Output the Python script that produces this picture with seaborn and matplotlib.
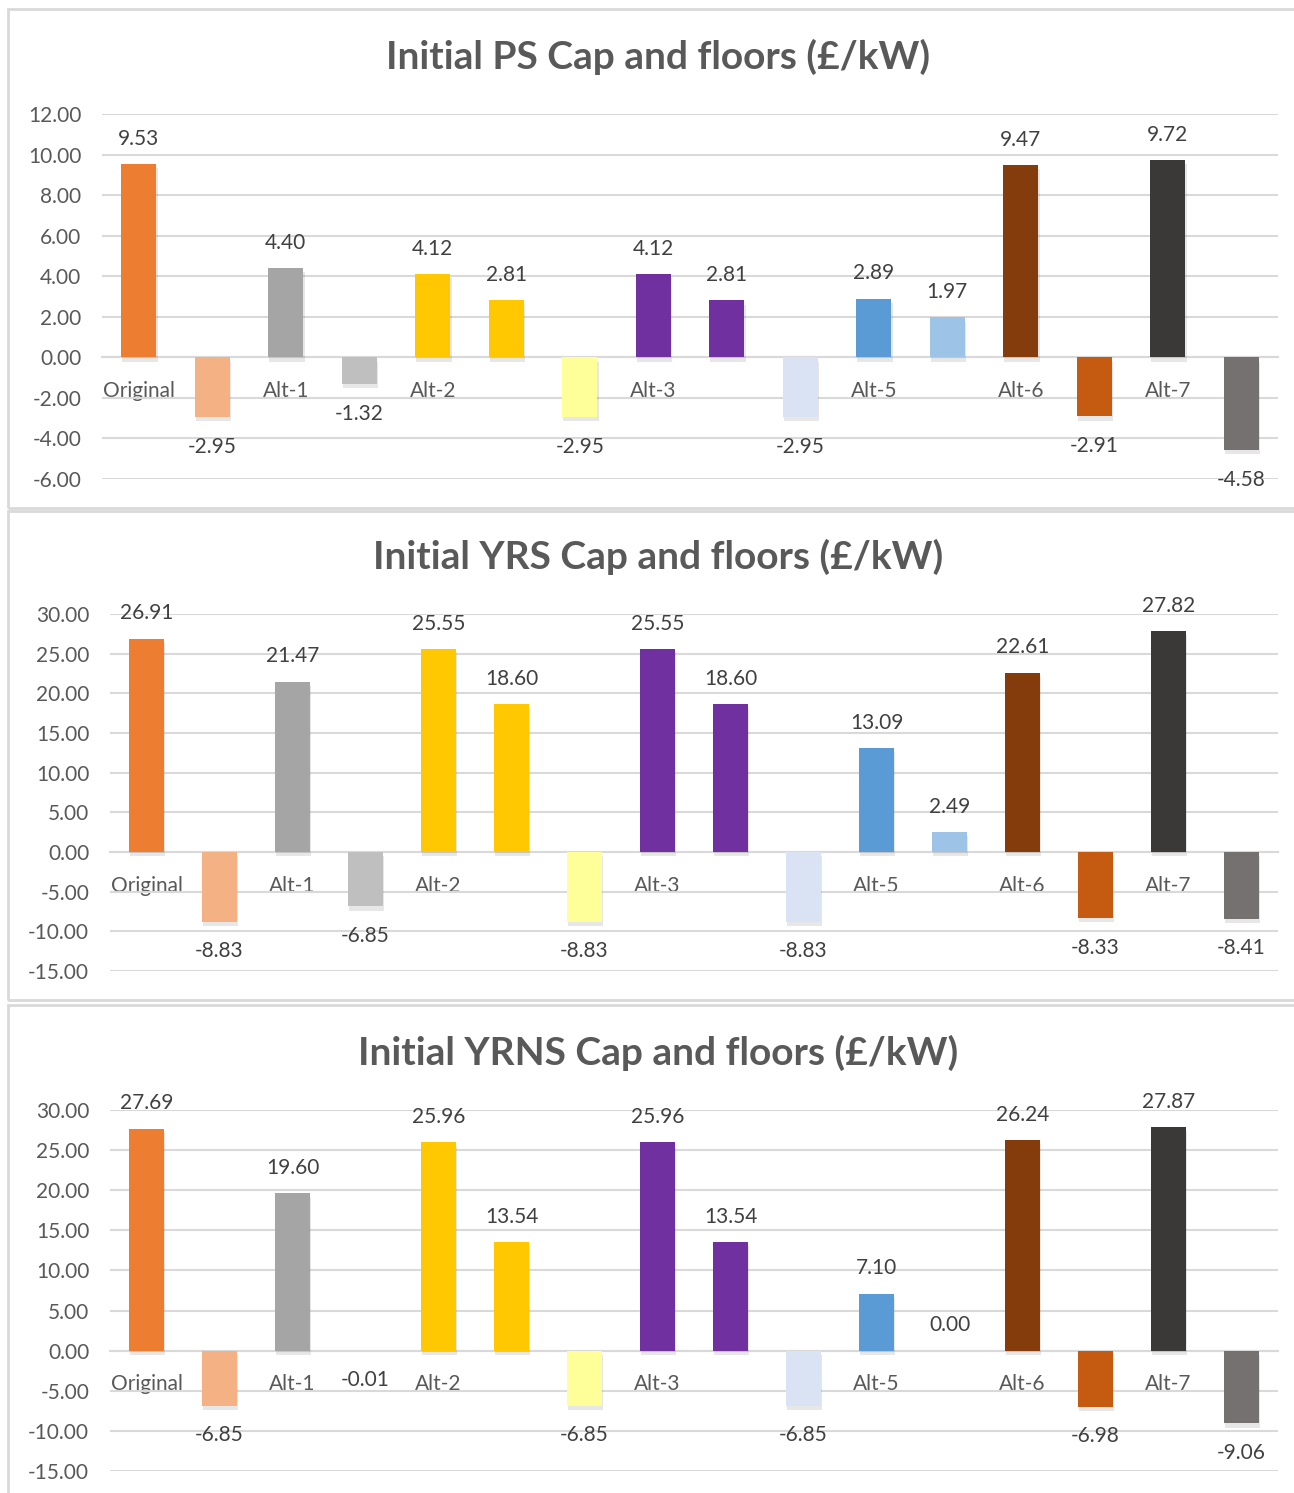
import numpy as np
import pandas as pd
import matplotlib
matplotlib.use('Agg')
import matplotlib.pyplot as plt
import matplotlib.patheffects as pe
from matplotlib.patches import Rectangle
from matplotlib.ticker import FormatStrFormatter, FixedLocator
import seaborn as sns

sns.set_theme(style='white')
plt.rcParams['font.family'] = ['Lato', 'DejaVu Sans']

# one bar per option: caps and floors side by side
keys = ['Original cap', 'Original floor', 'Alt-1 cap', 'Alt-1 floor',
        'Alt-2 cap', 'Alt-2 cap b', 'Alt-2 floor', 'Alt-3 cap', 'Alt-3 cap b',
        'Alt-3 floor', 'Alt-5 cap', 'Alt-5 floor', 'Alt-6 cap', 'Alt-6 floor',
        'Alt-7 cap', 'Alt-7 floor']
tick_labels = ['Original', '', 'Alt-1', '', 'Alt-2', '', '', 'Alt-3', '', '',
               'Alt-5', '', 'Alt-6', '', 'Alt-7', '']
bar_colors = ['#ED7D31', '#F4B183', '#A5A5A5', '#BFBFBF',
              '#FFC800', '#FFC800', '#FFFF99', '#7030A0', '#7030A0',
              '#DAE3F3', '#5B9BD5', '#9DC3E6', '#843C0C', '#C55A11',
              '#3B3838', '#767171']

ps_values = [9.53, -2.95, 4.40, -1.32, 4.12, 2.81, -2.95, 4.12, 2.81,
             -2.95, 2.89, 1.97, 9.47, -2.91, 9.72, -4.58]
yrs_values = [26.91, -8.83, 21.47, -6.85, 25.55, 18.60, -8.83, 25.55, 18.60,
              -8.83, 13.09, 2.49, 22.61, -8.33, 27.82, -8.41]
yrns_values = [27.69, -6.85, 19.60, -0.01, 25.96, 13.54, -6.85, 25.96, 13.54,
               -6.85, 7.10, 0.00, 26.24, -6.98, 27.87, -9.06]

titles = ['Initial PS Cap and floors (£/kW)',
          'Initial YRS Cap and floors (£/kW)',
          'Initial YRNS Cap and floors (£/kW)']

W, H = 1294, 1493
fig = plt.figure(figsize=(W / 100, H / 100), dpi=100)

GRID = '#D9D9D9'
AXIS_TXT = '#595959'
LABEL_TXT = '#404040'

# pixel boxes (panel frame, plot area, title y)
panels = [
    dict(frame=(8, 9, 1300, 508), plot=(102, 114, 1278, 479), ty=57,
         ylim=(-6, 12), step=2, vals=ps_values),
    dict(frame=(8, 511, 1300, 1000), plot=(110, 614, 1278, 971), ty=557,
         ylim=(-15, 30), step=5, vals=yrs_values),
    dict(frame=(8, 1005, 1300, 1500), plot=(110, 1110, 1278, 1471), ty=1053,
         ylim=(-15, 30), step=5, vals=yrns_values),
]

palette = dict(zip(keys, bar_colors))
shadow = [pe.SimplePatchShadow(offset=(1, -3), shadow_rgbFace='k', alpha=0.1),
          pe.Normal()]

for p, title in zip(panels, titles):
    x0, y0, x1, y1 = p['frame']
    fig.patches.append(Rectangle((x0 / W, 1 - y1 / H), (x1 - x0) / W, (y1 - y0) / H,
                                 transform=fig.transFigure, fill=False,
                                 edgecolor=GRID, linewidth=2))
    l, t, r, b = p['plot']
    ax = fig.add_axes([l / W, 1 - b / H, (r - l) / W, (b - t) / H])

    df = pd.DataFrame({'key': keys, 'value': p['vals']})
    sns.barplot(data=df, x='key', y='value', hue='key', palette=palette,
                saturation=1, width=0.48, legend=False, linewidth=0,
                ax=ax, zorder=3)
    for bar in ax.patches:
        bar.set_path_effects(shadow)
    for c in ax.containers:
        neg = c.datavalues[0] < 0
        ax.bar_label(c, fmt='%.2f', padding=14 if neg else 11,
                     fontsize=15, color=LABEL_TXT)

    ax.set_ylim(*p['ylim'])
    ax.set_xlim(-0.5, len(keys) - 0.5)
    ax.set_yticks(np.arange(p['ylim'][0], p['ylim'][1] + 0.1, p['step']))
    ax.yaxis.set_major_formatter(FormatStrFormatter('%.2f'))
    ax.grid(axis='y', color=GRID, linewidth=1.5, zorder=0)
    ax.set_axisbelow(True)

    ax.set_xticks(range(len(keys)))
    ax.set_xticklabels(tick_labels)
    ax.xaxis.set_minor_locator(FixedLocator(np.arange(-0.5, len(keys), 1)))
    ax.tick_params(axis='x', which='major', length=0, pad=17,
                   labelsize=15, labelcolor=AXIS_TXT)
    ax.tick_params(axis='x', which='minor', length=6, width=1.5,
                   color=GRID, direction='out')
    ax.tick_params(axis='y', length=0, pad=15, labelsize=15, labelcolor=AXIS_TXT)

    for s in ['top', 'right', 'left']:
        ax.spines[s].set_visible(False)
    ax.spines['bottom'].set_position(('data', 0))
    ax.spines['bottom'].set_color(GRID)
    ax.spines['bottom'].set_linewidth(1.5)
    ax.set_xlabel('')
    ax.set_ylabel('')

    fig.text(658 / W, 1 - p['ty'] / H, title, ha='center', va='center',
             fontsize=28, fontweight='bold', color=AXIS_TXT)

plt.savefig('out.png', dpi=100)
